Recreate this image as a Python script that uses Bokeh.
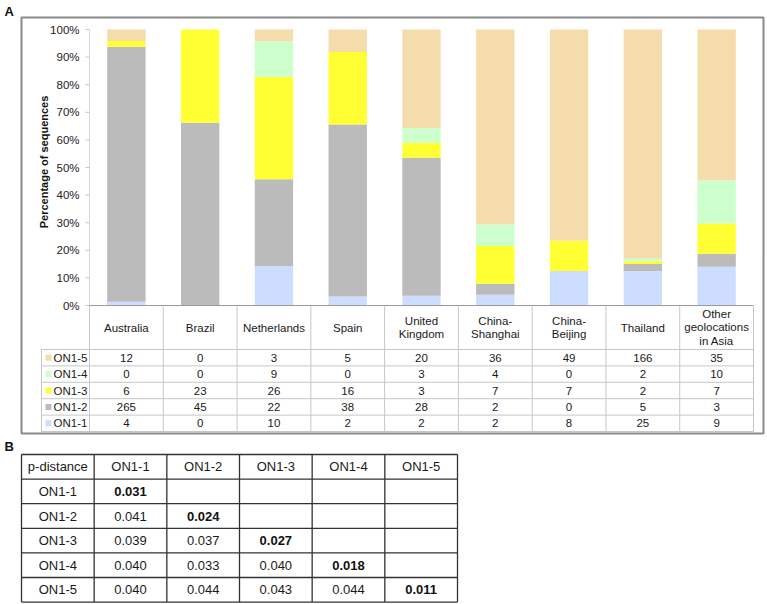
import math
from bokeh.plotting import figure
from bokeh.models import Range1d, ColumnDataSource
from bokeh.core.properties import value
from bokeh.embed import file_html
from bokeh.resources import INLINE

# ---------------- data ----------------
categories = ["Australia", "Brazil", "Netherlands", "Spain", "United Kingdom",
              "China-Shanghai", "China-Beijing", "Thailand", "Other geolocations in Asia"]
category_labels = ["Australia", "Brazil", "Netherlands", "Spain", "United\nKingdom",
                   "China-\nShanghai", "China-\nBeijing", "Thailand",
                   "Other\ngeolocations\nin Asia"]
genotypes = ["ON1-1", "ON1-2", "ON1-3", "ON1-4", "ON1-5"]
on1_1 = [4, 0, 10, 2, 2, 2, 8, 25, 9]
on1_2 = [265, 45, 22, 38, 28, 2, 0, 5, 3]
on1_3 = [6, 23, 26, 16, 3, 7, 7, 2, 7]
on1_4 = [0, 0, 9, 0, 3, 4, 0, 2, 10]
on1_5 = [12, 0, 3, 5, 20, 36, 49, 166, 35]
pct_ticks = [0, 10, 20, 30, 40, 50, 60, 70, 80, 90, 100]

pd_header = "p-distance"
pd_ON1_1 = [0.031]
pd_ON1_2 = [0.041, 0.024]
pd_ON1_3 = [0.039, 0.037, 0.027]
pd_ON1_4 = [0.040, 0.033, 0.040, 0.018]
pd_ON1_5 = [0.040, 0.044, 0.043, 0.044, 0.011]

# ---------------- style / layout ----------------
colors = {"ON1-1": "#CCDDFF", "ON1-2": "#BBBBBB", "ON1-3": "#FFFF33",
          "ON1-4": "#CCFFCC", "ON1-5": "#F5DCAB"}
FONT = value("Liberation Sans")
W, H, M = 767, 604, 0

AX0, AX1 = 89, 753            # table A / bar columns
COLW = (AX1 - AX0) / 9
PCT0, PCT_UNIT = 305, -2.76    # y of 0 %, px per percent
A_LEFT = 41
A_ROW0, A_ROWH = 349, 16.4
B_LEFT, B_COLW = 21, (457 - 21) / 6
B_TOP, B_ROWH = 454, 24.6


def xr(px0, unit):
    return Range1d(start=(M - px0) / unit, end=(M + W - px0) / unit)


def yr(px0, unit):
    return Range1d(start=(M + H - px0) / unit, end=(M - px0) / unit)


p = figure(width=W, height=H, x_range=Range1d(M, M + W), y_range=Range1d(M + H, M),
           x_axis_type=None, y_axis_type=None, toolbar_location=None,
           output_backend="svg", min_border=0, outline_line_color=None,
           background_fill_color="white", border_fill_color="white")
p.title = None
p.extra_x_ranges = {"cat": xr(AX0, COLW), "bx": xr(B_LEFT, B_COLW)}
p.extra_y_ranges = {"pct": yr(PCT0, PCT_UNIT), "ay": yr(A_ROW0, A_ROWH),
                    "by": yr(B_TOP, B_ROWH)}

counts = {"ON1-1": on1_1, "ON1-2": on1_2, "ON1-3": on1_3, "ON1-4": on1_4, "ON1-5": on1_5}
totals = [sum(counts[g][i] for g in genotypes) for i in range(len(categories))]
data = {"x": [i + 0.5 for i in range(len(categories))]}
for g in genotypes:
    data[g] = [100.0 * c / t for c, t in zip(counts[g], totals)]
src = ColumnDataSource(data)

# outer frame of panel A
p.quad(left=[21], right=[763], top=[17], bottom=[433], fill_color=None,
       line_color="#8a8a8a", line_width=2)

# stacked bars
p.vbar_stack(genotypes, x="x", width=0.52, source=src,
             fill_color=[colors[g] for g in genotypes], line_color=None,
             x_range_name="cat", y_range_name="pct")

# y axis
tick_len = 4 / COLW
p.segment(x0=[0], y0=[0], x1=[0], y1=[100], line_color="#d6d6d6", line_width=1,
          x_range_name="cat", y_range_name="pct")
p.segment(x0=[-tick_len] * len(pct_ticks), y0=pct_ticks, x1=[0] * len(pct_ticks),
          y1=pct_ticks, line_color="#c8c8c8", line_width=1,
          x_range_name="cat", y_range_name="pct")
p.text(x=[0] * len(pct_ticks), y=pct_ticks, text=[f"{t}%" for t in pct_ticks],
       x_offset=-10, text_align="right", text_baseline="middle",
       text_font=FONT, text_font_size="11.5px", text_color="#222222",
       x_range_name="cat", y_range_name="pct")
p.text(x=[43], y=[52], text=["Percentage of sequences"], angle=math.pi / 2,
       text_align="center", text_baseline="middle", text_font=FONT,
       text_font_style="bold", text_font_size="11px", text_color="#111111",
       y_range_name="pct")

# table A grid
grid_c = "#c6c6c6"
p.segment(x0=[AX0], y0=[PCT0], x1=[AX1], y1=[PCT0], line_color="#9a9a9a", line_width=1)
nrows = len(genotypes)
p.segment(x0=[A_LEFT] * (nrows + 1), y0=[r for r in range(nrows + 1)],
          x1=[AX1] * (nrows + 1), y1=[r for r in range(nrows + 1)],
          line_color=grid_c, line_width=1, y_range_name="ay")
p.segment(x0=[A_LEFT], y0=[0], x1=[A_LEFT], y1=[nrows], line_color=grid_c,
          line_width=1, y_range_name="ay")
kx = list(range(len(categories) + 1))
p.segment(x0=kx, y0=[PCT0] * len(kx), x1=kx, y1=[A_ROW0 + nrows * A_ROWH] * len(kx),
          line_color=grid_c, line_width=1, x_range_name="cat")

# category header
p.text(x=[i + 0.5 for i in range(len(categories))], y=[(PCT0 + A_ROW0) / 2] * len(categories),
       text=category_labels, text_align="center", text_baseline="middle",
       text_font=FONT, text_font_size="11.5px", text_color="#1a1a1a",
       text_line_height=1.15, x_range_name="cat")

# rows (ON1-5 at top)
row_order = list(reversed(genotypes))
p.scatter(x=[48] * nrows, y=[r + 0.5 for r in range(nrows)], marker="square", size=6,
          fill_color=[colors[g] for g in row_order], line_color=None, y_range_name="ay")
p.text(x=[53] * nrows, y=[r + 0.5 for r in range(nrows)], text=row_order,
       text_align="left", text_baseline="middle", text_font=FONT,
       text_font_size="11.5px", text_color="#1a1a1a", y_range_name="ay")
cx, cy, ct = [], [], []
for r, g in enumerate(row_order):
    for i, v in enumerate(counts[g]):
        cx.append(i + 0.5)
        cy.append(r + 0.5)
        ct.append(str(v))
p.text(x=cx, y=cy, text=ct, text_align="center", text_baseline="middle",
       text_font=FONT, text_font_size="11.5px", text_color="#1a1a1a",
       x_range_name="cat", y_range_name="ay")

# panel labels
p.text(x=[4, 4], y=[11, 446], text=["A", "B"], text_align="left", text_baseline="middle",
       text_font=FONT, text_font_style="bold", text_font_size="13px", text_color="#111111")

# ---------------- panel B ----------------
pd_rows = [pd_ON1_1, pd_ON1_2, pd_ON1_3, pd_ON1_4, pd_ON1_5]
nb = len(genotypes) + 1
bl = list(range(nb + 1))
p.segment(x0=[0] * len(bl), y0=bl, x1=[nb] * len(bl), y1=bl, line_color="#333333",
          line_width=1.3, x_range_name="bx", y_range_name="by")
p.segment(x0=bl, y0=[0] * len(bl), x1=bl, y1=[nb] * len(bl), line_color="#333333",
          line_width=1.3, x_range_name="bx", y_range_name="by")

hx = [0.5] + [j + 1.5 for j in range(len(genotypes))] + [0.5] * len(genotypes)
hy = [0.5] * (len(genotypes) + 1) + [r + 1.5 for r in range(len(genotypes))]
ht = [pd_header] + genotypes + genotypes
p.text(x=hx, y=hy, text=ht, text_align="center", text_baseline="middle",
       text_font=FONT, text_font_size="13px", text_color="#1a1a1a",
       x_range_name="bx", y_range_name="by")
vx, vy, vt, bx_, by_, bt = [], [], [], [], [], []
for r, row in enumerate(pd_rows):
    for c, v in enumerate(row):
        if c == r:
            bx_.append(c + 1.5); by_.append(r + 1.5); bt.append(f"{v:.3f}")
        else:
            vx.append(c + 1.5); vy.append(r + 1.5); vt.append(f"{v:.3f}")
p.text(x=vx, y=vy, text=vt, text_align="center", text_baseline="middle",
       text_font=FONT, text_font_size="13px", text_color="#1a1a1a",
       x_range_name="bx", y_range_name="by")
p.text(x=bx_, y=by_, text=bt, text_align="center", text_baseline="middle",
       text_font=FONT, text_font_style="bold", text_font_size="13px", text_color="#111111",
       x_range_name="bx", y_range_name="by")

open("out.html", "w").write(file_html(p, INLINE))
